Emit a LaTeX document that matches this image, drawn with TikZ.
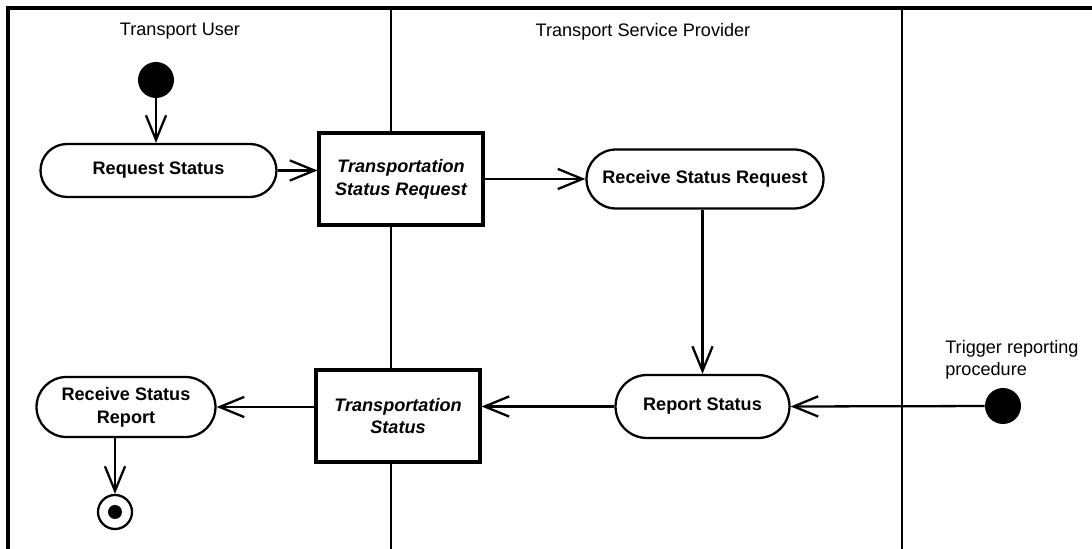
\documentclass[tikz,border=0pt]{standalone}
\usepackage{fontspec}
\setmainfont{Liberation Sans}
\usepackage{tikz}
\usetikzlibrary{shapes.misc, arrows.meta, positioning}
\usepackage{xcolor}
\tikzset{
  act/.style      = {draw, rounded rectangle, fill=white, line width=1.3pt, align=center,
                     font=\fontsize{10.3}{13}\selectfont\bfseries, inner sep=2pt},
  obj/.style      = {draw, rectangle, fill=white, line width=2.1pt, align=center,
                     font=\fontsize{10.3}{13}\selectfont\bfseries\itshape,
                     minimum width=3.27cm, minimum height=1.85cm},
  startdot/.style = {circle, fill=black, minimum size=0.72cm, inner sep=0pt},
  enddot/.style   = {circle, draw, fill=white, line width=1.3pt, minimum size=0.68cm, inner sep=0pt},
  lanetitle/.style= {font=\fontsize{10.3}{13}\selectfont},
  note/.style     = {font=\fontsize{10.3}{13}\selectfont, align=left, inner sep=0pt},
  frame/.style    = {line width=1.8pt},
  lane/.style     = {line width=1.2pt},
  flow/.style     = {-{Straight Barb[length=14pt, width=11.5pt]}, line width=1.3pt}
}

\begin{document}
\begin{tikzpicture}
\useasboundingbox (0,0) rectangle (21.84,-10.98);

% swimlanes
\draw[lane]  (7.82,-0.16) -- (7.82,-10.98);
\draw[lane]  (18.04,-0.16) -- (18.04,-10.98);
\draw[frame] (0.16,-10.98) -- (0.16,-0.16) -- (21.84,-0.16);
\node[lanetitle] at ( 3.6 ,-0.63) (userlane) {Transport User};
\node[lanetitle] at (12.86,-0.63) (provlane) {Transport Service Provider};

\node[startdot]                                    at ( 3.12,-1.6 ) (start)   {};
\node[act, minimum width=4.86cm, minimum height=1.06cm] at ( 3.17,-3.41) (reqst)   {Request Status};
\node[obj]                                         at ( 8.02,-3.58) (tsr)     {Transportation\\Status Request};
\node[act, minimum width=4.88cm, minimum height=1.18cm] at (14.1 ,-3.58) (recvreq) {Receive Status Request};
\node[act, minimum width=3.62cm, minimum height=1.26cm] at (14.05,-8.13) (report)  {Report Status};
\node[obj]                                         at ( 7.96,-8.32) (ts)      {Transportation\\Status};
\node[act, minimum width=3.72cm, minimum height=1.2cm]  at ( 2.52,-8.14) (rsr)     {Receive Status\\Report};
\node[enddot]                                      at ( 2.3 ,-10.24) (stop)   {};
\fill (stop) circle (0.14);
\node[startdot]                                    at (20.06,-8.12) (trigger) {};
\node[note, anchor=south west]                     at (18.9 ,-7.6 ) (trignote) {Trigger reporting\\procedure};

\draw[flow] (start) -- (start |- reqst.north);
\draw[flow] (reqst.east) -- (reqst.east -| tsr.west);
\draw[flow] (tsr.east |- recvreq) -- (recvreq.west);
\draw[flow] (recvreq.south -| report.north) -- (report.north);
\draw[flow] (trigger) -- (report.east);
\draw[flow] (report.west) -- (report.west -| ts.east);
\draw[flow] (ts.west |- rsr) -- (rsr.east);
\draw[flow] (stop |- rsr.south) -- (stop);
\end{tikzpicture}
\end{document}
